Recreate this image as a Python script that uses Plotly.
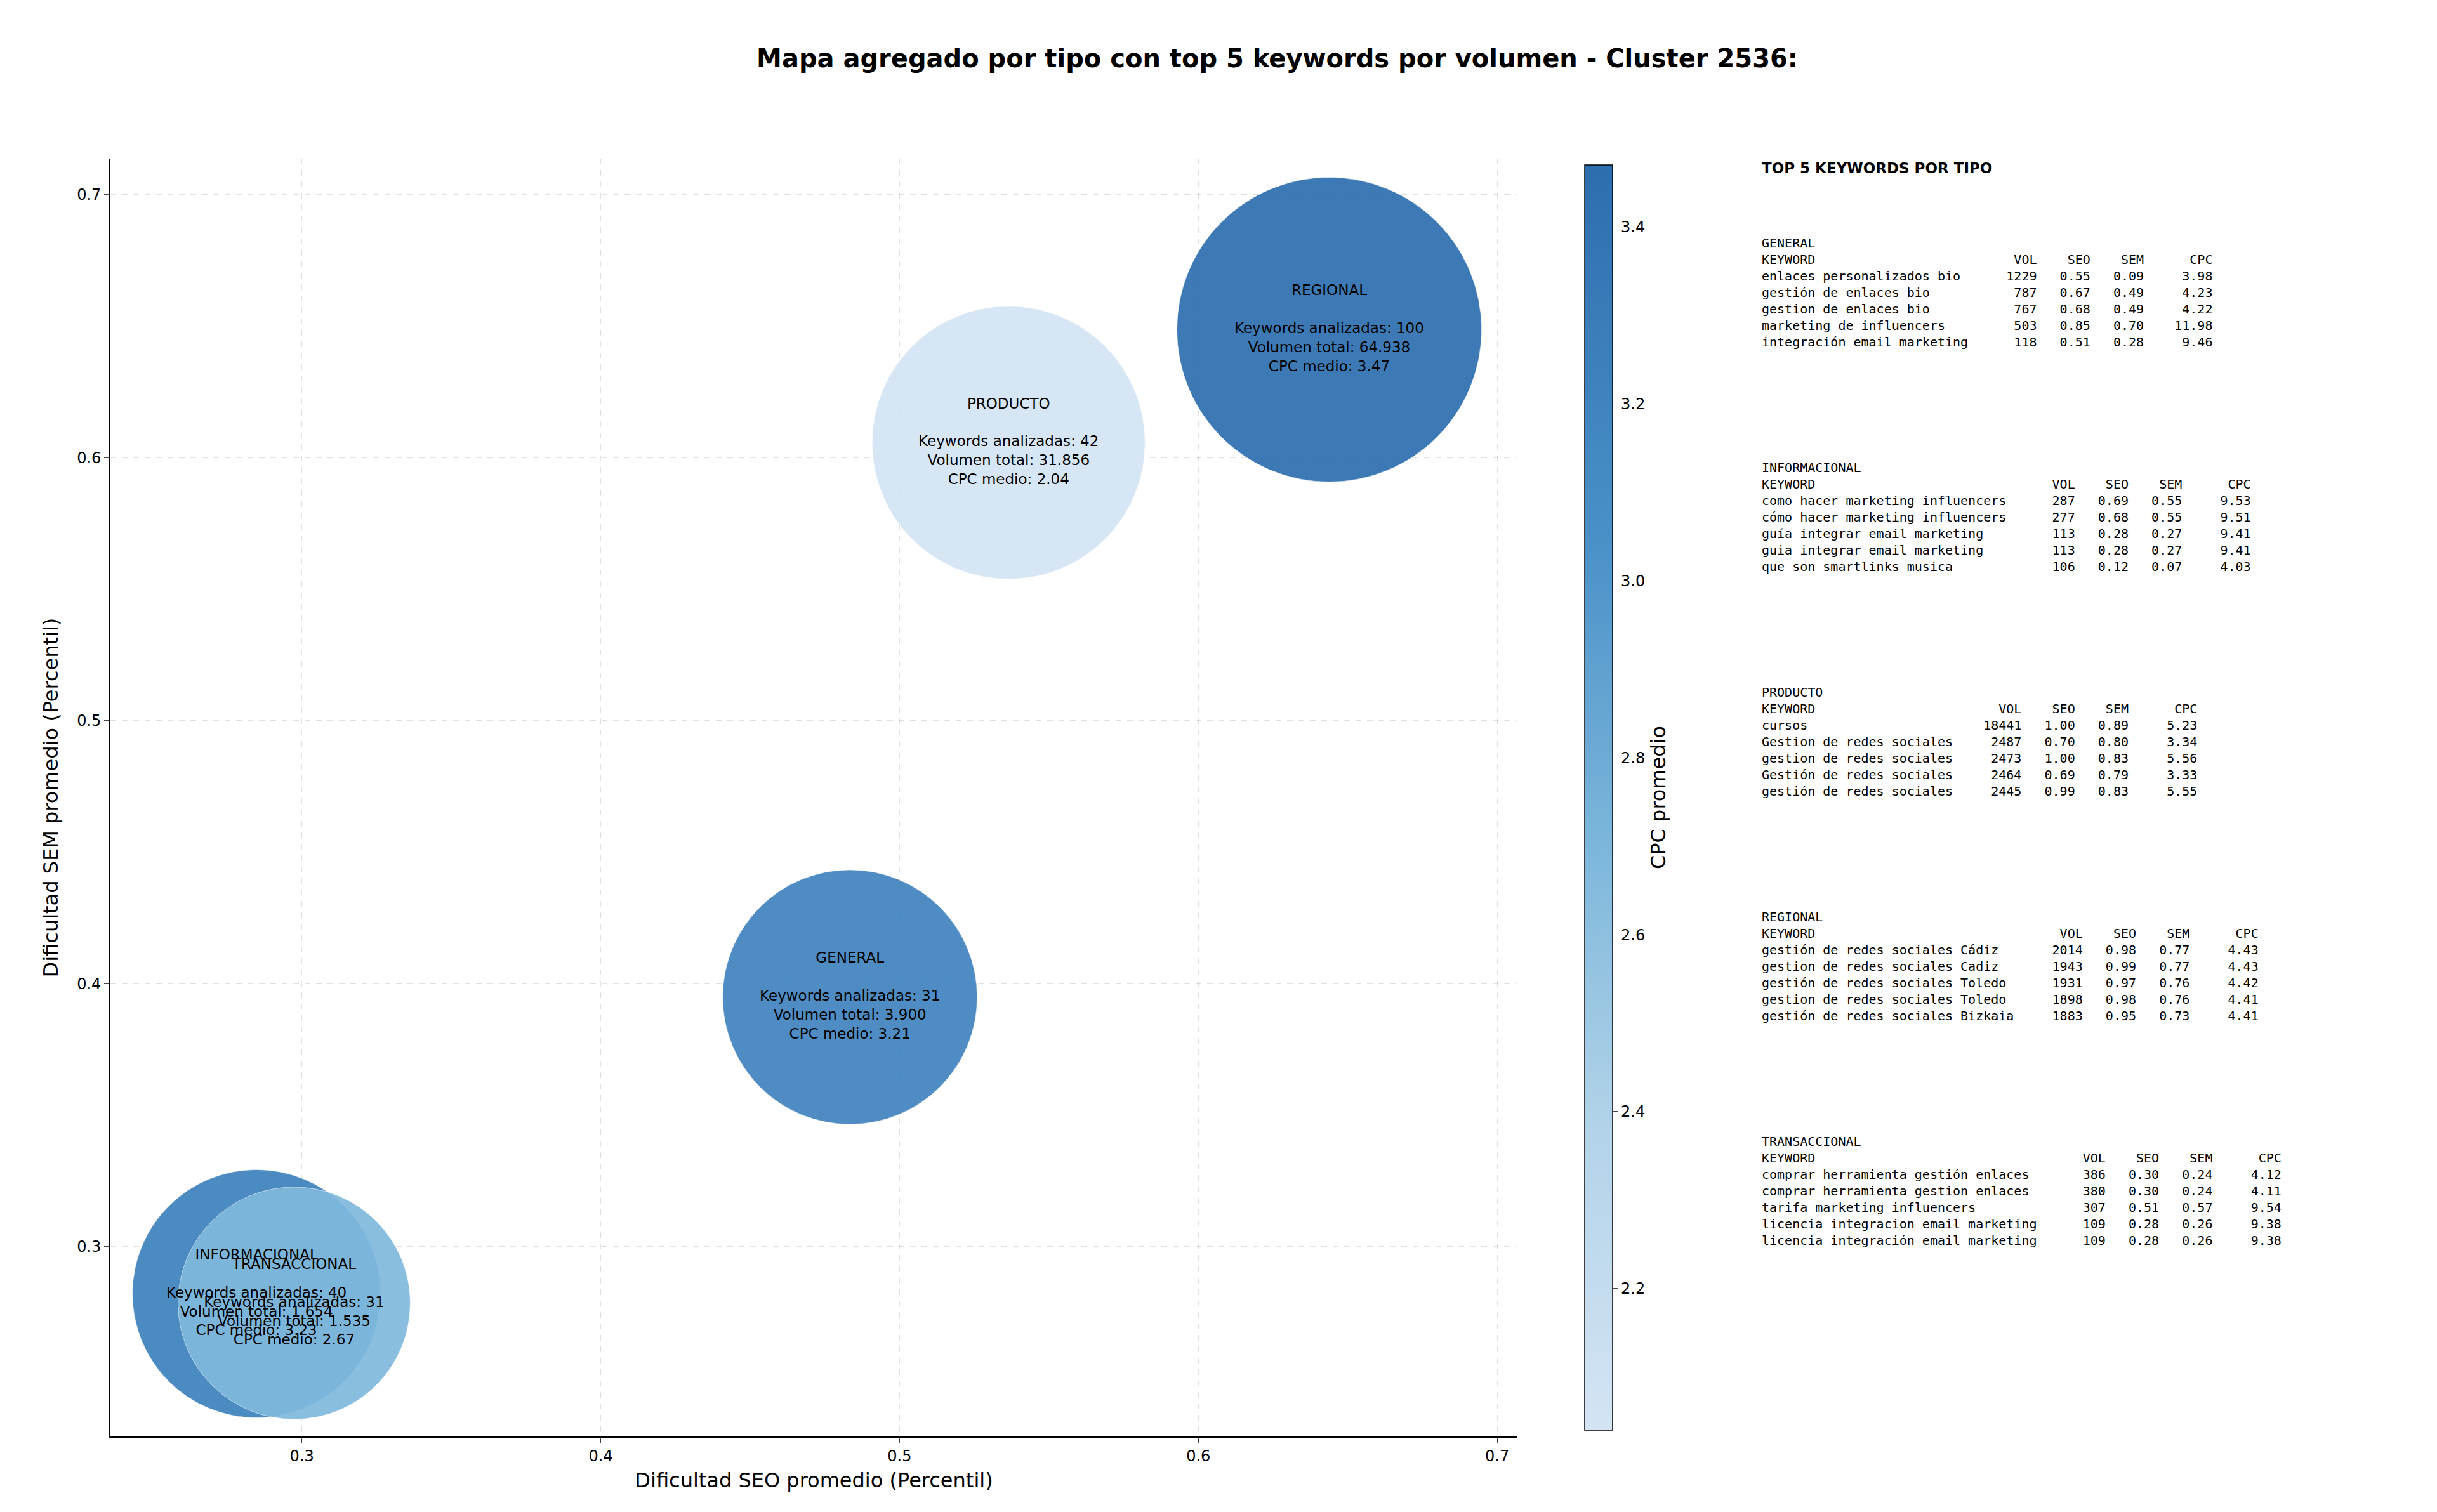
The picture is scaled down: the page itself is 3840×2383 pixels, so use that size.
import plotly.graph_objects as go

tipos = ["GENERAL", "INFORMACIONAL", "PRODUCTO", "REGIONAL", "TRANSACCIONAL"]
seo_prom = [0.4834, 0.2848, 0.5365, 0.6438, 0.2974]
sem_prom = [0.3949, 0.2821, 0.6057, 0.6487, 0.2785]
n_keywords = [31, 40, 42, 100, 31]
volumen_total = ["3.900", "1.654", "31.856", "64.938", "1.535"]
cpc_medio = [3.21, 3.23, 2.04, 3.47, 2.67]
bubble_px = [401, 391, 430, 480, 366]

top_kw = {
    "GENERAL": [
        ("enlaces personalizados bio", 1229, 0.55, 0.09, 3.98),
        ("gestión de enlaces bio", 787, 0.67, 0.49, 4.23),
        ("gestion de enlaces bio", 767, 0.68, 0.49, 4.22),
        ("marketing de influencers", 503, 0.85, 0.70, 11.98),
        ("integración email marketing", 118, 0.51, 0.28, 9.46),
    ],
    "INFORMACIONAL": [
        ("como hacer marketing influencers", 287, 0.69, 0.55, 9.53),
        ("cómo hacer marketing influencers", 277, 0.68, 0.55, 9.51),
        ("guía integrar email marketing", 113, 0.28, 0.27, 9.41),
        ("guia integrar email marketing", 113, 0.28, 0.27, 9.41),
        ("que son smartlinks musica", 106, 0.12, 0.07, 4.03),
    ],
    "PRODUCTO": [
        ("cursos", 18441, 1.00, 0.89, 5.23),
        ("Gestion de redes sociales", 2487, 0.70, 0.80, 3.34),
        ("gestion de redes sociales", 2473, 1.00, 0.83, 5.56),
        ("Gestión de redes sociales", 2464, 0.69, 0.79, 3.33),
        ("gestión de redes sociales", 2445, 0.99, 0.83, 5.55),
    ],
    "REGIONAL": [
        ("gestión de redes sociales Cádiz", 2014, 0.98, 0.77, 4.43),
        ("gestion de redes sociales Cadiz", 1943, 0.99, 0.77, 4.43),
        ("gestión de redes sociales Toledo", 1931, 0.97, 0.76, 4.42),
        ("gestion de redes sociales Toledo", 1898, 0.98, 0.76, 4.41),
        ("gestión de redes sociales Bizkaia", 1883, 0.95, 0.73, 4.41),
    ],
    "TRANSACCIONAL": [
        ("comprar herramienta gestión enlaces", 386, 0.30, 0.24, 4.12),
        ("comprar herramienta gestion enlaces", 380, 0.30, 0.24, 4.11),
        ("tarifa marketing influencers", 307, 0.51, 0.57, 9.54),
        ("licencia integracion email marketing", 109, 0.28, 0.26, 9.38),
        ("licencia integración email marketing", 109, 0.28, 0.26, 9.38),
    ],
}

scale = [[0, "#d4e4f4"], [0.25, "#b0d2e8"], [0.45, "#7fb8dc"], [0.7, "#4a91c8"], [1, "#2d6eae"]]

labels = [f"{t}<br><br>Keywords analizadas: {n}<br>Volumen total: {v}<br>CPC medio: {c:.2f}"
          for t, n, v, c in zip(tipos, n_keywords, volumen_total, cpc_medio)]

fig = go.Figure()
fig.add_trace(go.Scatter(
    x=seo_prom, y=sem_prom, mode="markers", showlegend=False,
    marker=dict(size=bubble_px, color=cpc_medio, colorscale=scale, opacity=0.92,
                line=dict(width=1, color="rgba(255,255,255,0.6)"),
                cmin=min(cpc_medio), cmax=max(cpc_medio),
                colorbar=dict(x=0.6456, xanchor="left", y=0.0533, yanchor="bottom",
                              len=0.8451, lenmode="fraction", thickness=44,
                              outlinecolor="black", outlinewidth=1.5,
                              tickvals=[2.2, 2.4, 2.6, 2.8, 3.0, 3.2, 3.4],
                              ticktext=["2.2", "2.4", "2.6", "2.8", "3.0", "3.2", "3.4"],
                              ticks="outside", ticklen=8, tickfont=dict(size=24),
                              title=dict(text="CPC promedio", side="right",
                                         font=dict(size=32))))))
fig.add_trace(go.Scatter(x=seo_prom, y=sem_prom, mode="text", text=labels,
                         textposition="middle center", showlegend=False,
                         textfont=dict(size=23, color="black")))

NB = "\u00a0"
def block(t):
    rows = top_kw[t]
    w = max(len(r[0]) for r in rows) + 3
    lines = [t, f"{'KEYWORD':<{w}}{'VOL':>6}{'SEO':>7}{'SEM':>7}{'CPC':>9}"]
    for kw, vol, seo, sem, cpc in rows:
        lines.append(f"{kw:<{w}}{vol:>6}{seo:>7.2f}{sem:>7.2f}{cpc:>9.2f}")
    return "<br>".join(l.replace(" ", NB) for l in lines)

fig.add_annotation(x=0.7203, y=1 - 242 / 2383, xref="paper", yref="paper", xanchor="left",
                   yanchor="top", showarrow=False, align="left",
                   text="<b>TOP 5 KEYWORDS POR TIPO</b>", font=dict(size=23, color="black"))
for i, t in enumerate(tipos):
    top = 361 + i * 354
    fig.add_annotation(x=0.7203, y=1 - top / 2383, xref="paper", yref="paper", xanchor="left",
                       yanchor="top", showarrow=False, align="left", text=block(t),
                       font=dict(size=20, family="DejaVu Sans Mono", color="black"))

axis = dict(showline=True, linecolor="black", linewidth=1.5, ticks="outside", ticklen=8,
            tickfont=dict(size=24), showgrid=True, gridcolor="rgba(0,0,0,0.12)",
            griddash="dash", zeroline=False, mirror=False)
fig.update_layout(
    width=3840, height=2383, plot_bgcolor="white", paper_bgcolor="white",
    font=dict(family="DejaVu Sans", color="black"),
    margin=dict(l=0, r=0, t=0, b=0),
    title=dict(text="<b>Mapa agregado por tipo con top 5 keywords por volumen - Cluster 2536:</b>",
               x=0.522, xanchor="center", y=1 - 84 / 2383, yanchor="middle",
               font=dict(size=40)),
    xaxis=dict(axis, domain=[0.0432, 0.6206], range=[0.2359, 0.7068],
               tickvals=[0.3, 0.4, 0.5, 0.6, 0.7],
               title=dict(text="Dificultad SEO promedio (Percentil)", font=dict(size=32), standoff=14)),
    yaxis=dict(axis, domain=[0.0533, 0.8984], range=[0.2278, 0.7137],
               tickvals=[0.3, 0.4, 0.5, 0.6, 0.7],
               title=dict(text="Dificultad SEM promedio (Percentil)", font=dict(size=32), standoff=20)),
)
fig.write_html("out.html")
